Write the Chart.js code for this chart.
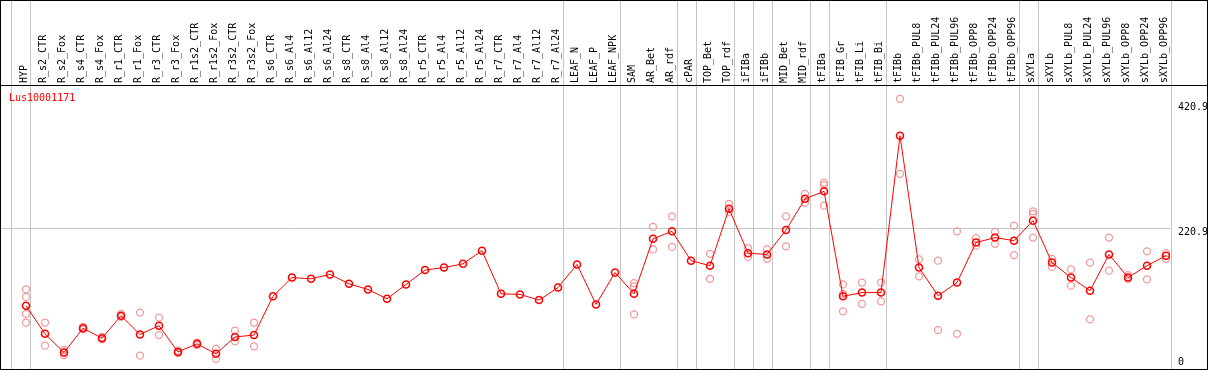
<!DOCTYPE html>
<html><head><meta charset="utf-8">
<script src="https://cdn.jsdelivr.net/npm/chart.js@4"></script>
<style>html,body{margin:0;padding:0;background:#fff;overflow:hidden}canvas{display:block}</style>
</head><body>
<canvas id="c" width="1209" height="370"></canvas>
<script>
const geneName = 'Lus10001171';
const categories = ['HYP','R_s2_CTR','R_s2_Fox','R_s4_CTR','R_s4_Fox','R_r1_CTR','R_r1_Fox','R_r3_CTR','R_r3_Fox','R_r1s2_CTR','R_r1s2_Fox','R_r3s2_CTR','R_r3s2_Fox','R_s6_CTR','R_s6_Al4','R_s6_Al12','R_s6_Al24','R_s8_CTR','R_s8_Al4','R_s8_Al12','R_s8_Al24','R_r5_CTR','R_r5_Al4','R_r5_Al12','R_r5_Al24','R_r7_CTR','R_r7_Al4','R_r7_Al12','R_r7_Al24','LEAF_N','LEAF_P','LEAF_NPK','SAM','AR_Bet','AR_rdf','cPAR','TOP_Bet','TOP_rdf','iFIBa','iFIBb','MID_Bet','MID_rdf','tFIBa','tFIB_Gr','tFIB_Li','tFIB_Bi','tFIBb','tFIBb_PUL8','tFIBb_PUL24','tFIBb_PUL96','tFIBb_OPP8','tFIBb_OPP24','tFIBb_OPP96','sXYLa','sXYLb','sXYLb_PUL8','sXYLb_PUL24','sXYLb_PUL96','sXYLb_OPP8','sXYLb_OPP24','sXYLb_OPP96'];
const meanValues = [97,52,22,61,45,81,51,65,23,36,20,47,50,112,142,140,147,132,123,108,131,154,158,164,185,116,115,106,126,163,99,150,116,204,216,169,161,252,181,179,218,268,280,112,118,118,369,158,113,134,198,206,201,233,166,142,121,179,142,161,177];
const replicateValues = [
  [123,111,84,70],[70,33],[26,18],[63,59],[47,43],[84,79],[86,17],[78,50],[25,21],[38,34],[28,12],[57,40],[70,32],
  [],[],[],[],[],[],[],[],[],[],[],[],[],[],[],[],[],[],[],
  [133,128,83],[223,187],[240,191],[],[180,140],[260,247],[189,175],[187,172],[240,192],[276,262],[294,290,257],
  [131,116,88],[134,100],[134,104],[428,308],[171,144],[169,58],[216,52],[205,193],[215,196],[225,178],
  [248,244,206],[172,159],[155,129],[166,75],[206,153],[146,140],[184,139],[181,172]
];
const yTickValues = [0, 220.9, 420.9];
const groupEnds = [-1, 0, 28, 31, 34, 35, 37, 38, 39, 41, 42, 45, 52, 53, 60];

const MONO = '"DejaVu Sans Mono", "Liberation Mono", monospace';
const GRID = '#c6c6c6';

const framePlugin = {
  id: 'frame',
  beforeDatasetsDraw(chart) {
    const {ctx} = chart; const xs = chart.scales.x;
    ctx.save(); ctx.strokeStyle = GRID; ctx.lineWidth = 1;
    groupEnds.forEach(e => {
      const px = Math.round(xs.getPixelForValue(e) + 4.5) + 0.5;
      ctx.beginPath(); ctx.moveTo(px, 0); ctx.lineTo(px, chart.height); ctx.stroke();
    });
    ctx.restore();
  },
  afterDraw(chart) {
    const {ctx} = chart;
    ctx.save(); ctx.strokeStyle = '#000'; ctx.lineWidth = 1;
    ctx.strokeRect(0.5, 0.5, chart.width - 2, chart.height - 1);
    const hy = chart.chartArea.top + 0.5;
    ctx.beginPath(); ctx.moveTo(0, hy); ctx.lineTo(chart.width - 1, hy); ctx.stroke();
    ctx.fillStyle = '#ff0000'; ctx.font = '10px ' + MONO; ctx.textBaseline = 'alphabetic';
    ctx.fillText(chart.data.datasets[0].label, 9, 101);
    ctx.restore();
  }
};

const replicatePoints = [];
replicateValues.forEach((arr, i) => arr.forEach(v => replicatePoints.push({x: i, y: v})));

new Chart(document.getElementById('c'), {
  type: 'line',
  data: {
    datasets: [
      {
        label: geneName,
        data: meanValues.map((v, i) => ({x: i, y: v})),
        borderColor: '#ff0000', borderWidth: 1,
        pointStyle: 'circle', pointRadius: 3.5, pointBorderWidth: 1.6,
        pointBorderColor: '#ff0000', pointBackgroundColor: 'rgba(0,0,0,0)',
        tension: 0
      },
      {
        label: 'replicates',
        type: 'scatter',
        data: replicatePoints,
        showLine: false,
        pointStyle: 'circle', pointRadius: 3.5, pointBorderWidth: 1.3,
        pointBorderColor: '#f09a9a', pointBackgroundColor: 'rgba(0,0,0,0)'
      }
    ]
  },
  options: {
    responsive: false, animation: false, devicePixelRatio: 1,
    layout: {padding: 0, autoPadding: false},
    plugins: {legend: {display: false}, tooltip: {enabled: false}},
    scales: {
      x: {
        type: 'linear', position: 'top', min: -1.3684, max: 60.2105,
        afterBuildTicks: s => { s.ticks = categories.map((_, i) => ({value: i})); },
        afterFit: s => { s.height = 85; s.paddingLeft = 0; s.paddingRight = 0; },
        grid: {display: false}, border: {display: false},
        ticks: {autoSkip: false, minRotation: 90, maxRotation: 90, padding: -6, labelOffset: 10, color: '#000',
          font: {family: MONO, size: 10}, callback: (v, i) => categories[i]}
      },
      y: {
        type: 'linear', position: 'right', min: -5.9, max: 450.1,
        afterBuildTicks: s => { s.ticks = yTickValues.map(v => ({value: v})); },
        afterFit: s => { s.width = 39; s.paddingTop = 0; s.paddingBottom = 0; },
        grid: {color: c => (c.tick && c.tick.value === 220.9) ? GRID : 'rgba(0,0,0,0)', drawTicks: false},
        border: {display: false},
        ticks: {padding: 8, labelOffset: 4, color: '#000', autoSkip: false,
          font: {family: MONO, size: 10, lineHeight: 1.6},
          callback: v => v === 0 ? ['0', ''] : String(v)}
      }
    }
  },
  plugins: [framePlugin]
});
</script>
</body></html>
